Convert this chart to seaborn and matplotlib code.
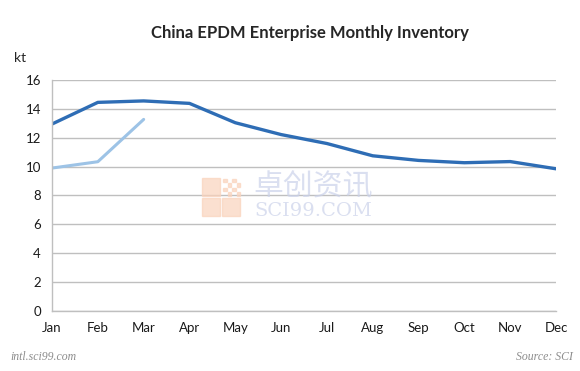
import matplotlib
matplotlib.use("Agg")
import matplotlib.pyplot as plt
from matplotlib.patches import Rectangle
import pandas as pd
import seaborn as sns

months = ["Jan", "Feb", "Mar", "Apr", "May", "Jun",
          "Jul", "Aug", "Sep", "Oct", "Nov", "Dec"]
inv_prev = [12.95, 14.45, 14.55, 14.38, 13.04, 12.22,
            11.6, 10.75, 10.43, 10.27, 10.35, 9.85]
inv_curr = [9.9, 10.34, 13.27]

sns.set_theme(style="white")
plt.rcParams["font.family"] = ["Lato", "DejaVu Sans"]

prev = pd.DataFrame({"month": months, "kt": inv_prev})
curr = pd.DataFrame({"month": months[:len(inv_curr)], "kt": inv_curr})

fig = plt.figure(figsize=(5.8, 3.71), dpi=100)

# faint watermark behind the chart
W, H = 580, 371
for x0, y0 in [(202, 178), (202, 198), (222, 198)]:
    fig.patches.append(Rectangle((x0 / W, (H - y0 - 18) / H), 18 / W, 18 / H,
                                 transform=fig.transFigure, color="#FAD3BC",
                                 alpha=0.7, zorder=0))
for i in range(4):
    for j in range(4):
        if (i + j) % 2 == 0:
            fig.patches.append(Rectangle(((223 + 4.5 * i) / W, (H - 182 - 4.5 * j) / H),
                                         3.5 / W, 3.5 / H, transform=fig.transFigure,
                                         color="#FAD3BC", alpha=0.7, zorder=0))
fig.text(0.54, 0.496, "卓创资讯", ha="center", va="center", fontsize=21.5,
         color="#CBD2EA", alpha=0.7, family=["Noto Sans CJK SC", "DejaVu Sans"])
fig.text(0.54, 0.43, "SCI99.COM", ha="center", va="center", fontsize=14,
         color="#CBD2EA", alpha=0.7, family="DejaVu Serif")

ax = fig.add_axes([0.0897, 0.1617, 0.8689, 0.6227])
ax.patch.set_alpha(0)

sns.lineplot(data=prev, x="month", y="kt", sort=False, color="#2E6DB5",
             linewidth=2.4, ax=ax)
sns.lineplot(data=curr, x="month", y="kt", sort=False, color="#9DC3E6",
             linewidth=2.2, ax=ax)

ax.set_xlim(0, len(months) - 1)
ax.set_ylim(0, 16)
ax.set_yticks(range(0, 17, 2))
ax.grid(axis="y", color="#BFBFBF", linewidth=1.0)
ax.set_axisbelow(True)
for s in ["top", "right"]:
    ax.spines[s].set_visible(False)
for s in ["left", "bottom"]:
    ax.spines[s].set_color("#BFBFBF")
    ax.spines[s].set_linewidth(1.0)
ax.tick_params(axis="both", length=4, width=1.0, color="#BFBFBF",
               labelsize=9.5, labelcolor="#1A1A1A", pad=6, direction="inout")
ax.set_xlabel("")
ax.set_ylabel("")

fig.text(0.535, 0.911, "China EPDM Enterprise Monthly Inventory",
         ha="center", va="center", fontsize=12, fontweight="bold")
fig.text(0.035, 0.845, "kt", ha="center", va="center", fontsize=10)

fig.text(0.018, 0.037, "intl.sci99.com", ha="left", va="center", fontsize=8.5,
         style="italic", color="#8C8C8C", family="Liberation Serif")
fig.text(0.987, 0.037, "Source: SCI", ha="right", va="center", fontsize=8.5,
         style="italic", color="#8C8C8C", family="Liberation Serif")

fig.savefig("out.png", dpi=100)
